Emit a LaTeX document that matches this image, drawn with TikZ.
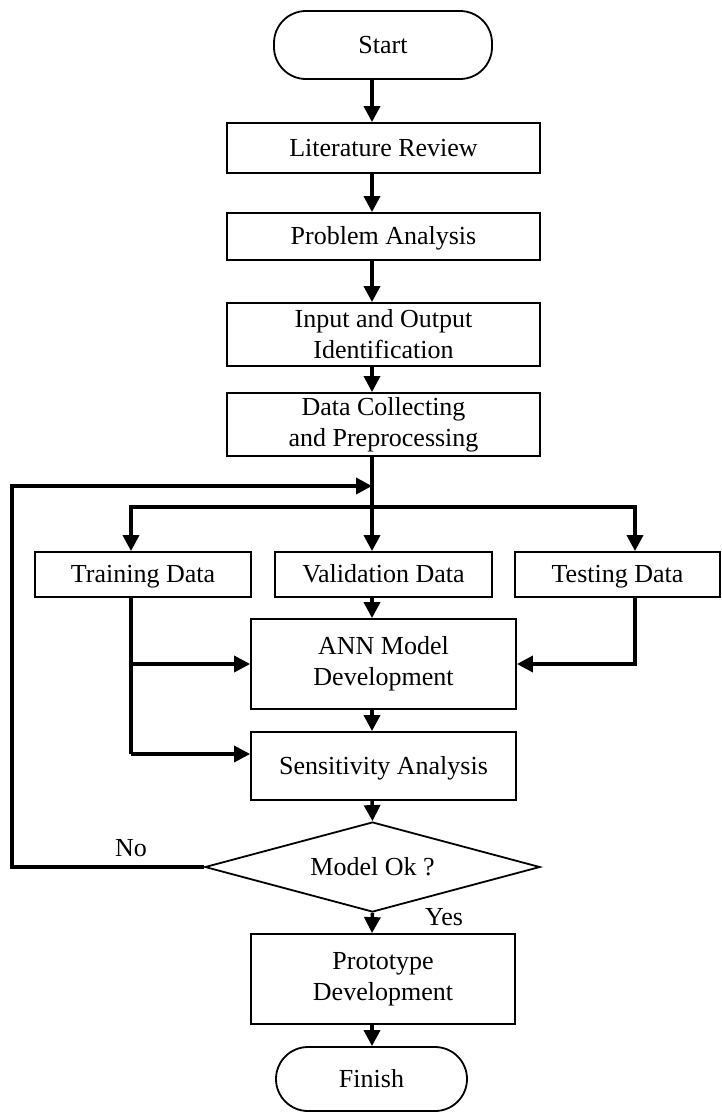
\documentclass[tikz,border=0pt]{standalone}
\usepackage{fontspec}
\setmainfont{Liberation Serif}
\usetikzlibrary{arrows.meta,shapes.geometric}
\begin{document}
\begin{tikzpicture}[x=1pt,y=-1pt,
  txt/.style={font=\fontsize{26}{31}\selectfont},
  box/.style={txt,draw,line width=1.8pt,rectangle,inner sep=0pt,align=center},
  one/.style={text height=18pt,text depth=1.5pt},
  term/.style={box,one,rounded corners=32pt},
  flow/.style={line width=3.5pt,-{Triangle[width=16pt,length=16pt]}},
  plain/.style={line width=3.5pt},
  lbl/.style={txt,inner sep=0pt}]
\useasboundingbox (0,0) rectangle (722,1114);
% nodes
\node[term,minimum width=218pt,minimum height=68pt] (start) at (383,45) {Start};
\node[box,one,minimum width=313pt,minimum height=50pt] (lit) at (383.5,148) {Literature Review};
\node[box,one,minimum width=313pt,minimum height=47pt] (prob) at (383.5,236.5) {Problem Analysis};
\node[box,minimum width=313pt,minimum height=63pt] (io) at (383.5,334.5) {Input and Output\\Identification};
\node[box,minimum width=313pt,minimum height=63pt] (data) at (383.5,424.5) {Data Collecting\\and Preprocessing};
\node[box,one,minimum width=216pt,minimum height=45pt] (train) at (143,574.5) {Training Data};
\node[box,one,minimum width=217pt,minimum height=45pt] (valid) at (383.5,574.5) {Validation Data};
\node[box,one,minimum width=205pt,minimum height=45pt] (test) at (617.5,574.5) {Testing Data};
\node[box,minimum width=265pt,minimum height=90pt] (ann) at (383.5,664) {ANN Model\\Development};
\node[box,one,minimum width=265pt,minimum height=68pt] (sens) at (383.5,766) {Sensitivity Analysis};
\node[txt,one,diamond,draw,line width=1.8pt,aspect=3.7,inner sep=0pt,minimum width=335pt,minimum height=90pt] (dia) at (372.5,867) {Model Ok ?};
\node[box,minimum width=264pt,minimum height=90pt] (proto) at (383,979) {Prototype\\Development};
\node[term,minimum width=191pt,minimum height=64pt] (finish) at (371.5,1079) {Finish};
\node[lbl,anchor=base] (no) at (131,856) {No};
\node[lbl,anchor=base] (yes) at (444,925) {Yes};
% helper coordinates
\coordinate (ax) at (372,0);
\coordinate (bl) at (131,507);
\coordinate (br) at (635,507);
\coordinate (fbcorner) at (12,486);
\coordinate (fbend) at (372,486);
\path (sens.west) ++(0,-12) coordinate (sensIn);
% connectors
\draw[flow] (start.south -| ax) -- (lit.north -| ax);
\draw[flow] (lit.south -| ax) -- (prob.north -| ax);
\draw[flow] (prob.south -| ax) -- (io.north -| ax);
\draw[flow] (io.south -| ax) -- (data.north -| ax);
\draw[flow] (data.south -| ax) -- (valid.north -| ax);
\draw[flow] (br) -- (bl) -- (train.north -| bl);
\draw[flow] (bl) -- (br) -- (test.north -| br);
\draw[flow] (dia.west) -| (fbcorner) -- (fbend);
\draw[flow] (valid.south -| ax) -- (ann.north -| ax);
\draw[plain] (train.south -| bl) -- (bl |- sensIn);
\draw[flow] (bl |- ann.west) -- (ann.west);
\draw[flow] (bl |- sensIn) -- (sensIn);
\draw[flow] (test.south -| br) |- (ann.east);
\draw[flow] (ann.south -| ax) -- (sens.north -| ax);
\draw[flow] (sens.south -| ax) -- (dia.north);
\draw[flow] (dia.south) -- (proto.north -| ax);
\draw[flow] (proto.south -| ax) -- (finish.north -| ax);
\end{tikzpicture}
\end{document}
